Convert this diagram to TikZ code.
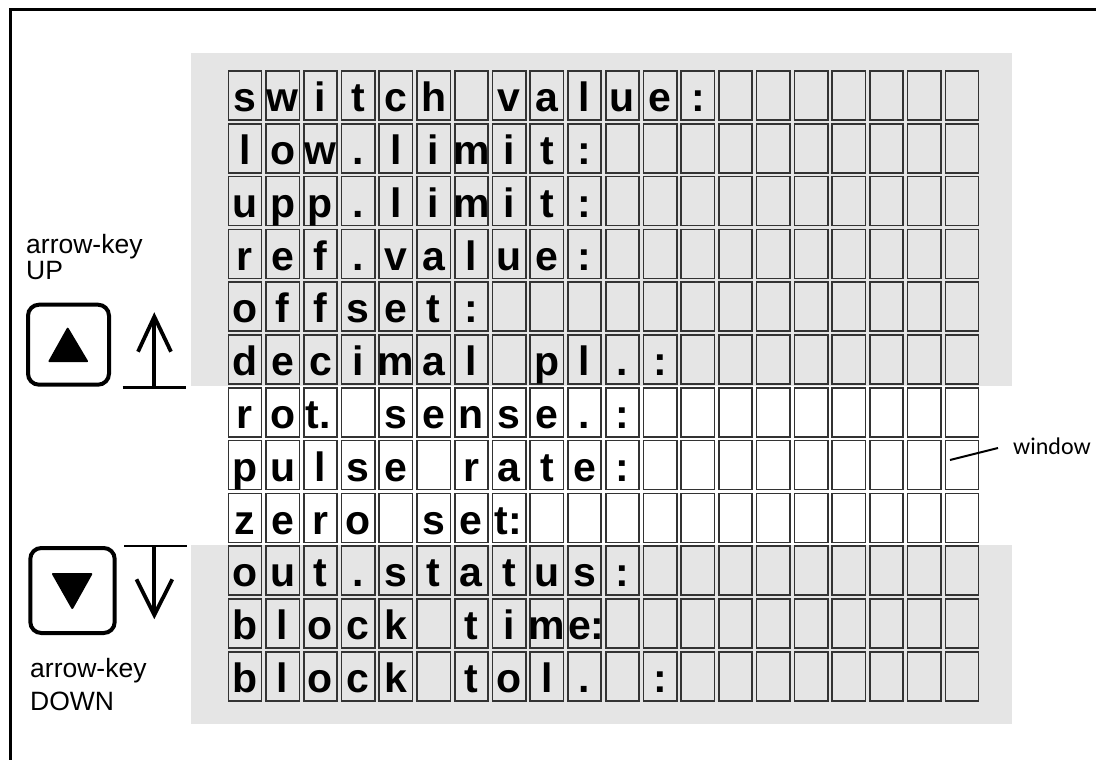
\documentclass[tikz,border=0pt]{standalone}
\usepackage{fontspec}
\setmainfont{Liberation Sans}
\newfontfamily\calib{Carlito}
\newfontfamily\lcdbold{Liberation Sans Bold}
\usetikzlibrary{calc}
\begin{document}
\begin{tikzpicture}[x=1pt,y=-1pt,
  cell/.style={draw=black!80,line width=1.6pt,minimum width=33.3pt,minimum height=49pt,inner sep=0pt,outer sep=0pt,anchor=north west},
  ch/.style={font=\lcdbold\fontsize{41pt}{41pt}\selectfont,anchor=base,inner sep=0pt},
  chl/.style={ch,anchor=base west},
  lbl/.style={font=\fontsize{26.5pt}{30pt}\selectfont,anchor=base west,inner sep=0pt},
  keybox/.style={draw,line width=4pt,rounded corners=11pt,inner sep=0pt},
  arr/.style={line width=3.8pt,line cap=butt,line join=miter}]
\useasboundingbox (0,0) rectangle (1096,760);
% frame
\draw[line width=3pt] (10,760) -- (10,9.5) -- (1096,9.5);
% gray panels
\fill[gray!20] (191,52.7) rectangle (1012,386);
\fill[gray!20] (191,545) rectangle (1012,724);
% grid
\foreach \r in {0,...,11}
  \foreach \c in {0,...,19}
    \node[cell] (c-\r-\c) at ({228.3+\c*37.74},{71+\r*52.8}) {};
% texts
\newcommand\rowtxt[2]{%
  \foreach \t [count=\c from 0] in {#2}
    \node[ch] (t-#1-\c) at ($(c-#1-\c.south)+(0,-8.3)$) {\t};}
\rowtxt{0}{s,w,i,t,c,h,{},v,a,l,u,e,:}
\rowtxt{1}{l,o,w,.,l,i,m,i,t,:}
\rowtxt{2}{u,p,p,.,l,i,m,i,t,:}
\rowtxt{3}{r,e,f,.,v,a,l,u,e,:}
\rowtxt{4}{o,f,f,s,e,t,:}
\rowtxt{5}{d,e,c,i,m,a,l,{},p,l,.,:}
\rowtxt{6}{r,o}
\node[chl] (t-6-2) at ($(c-6-2.south west)+(2,-8.3)$) {t.};
\foreach \t [count=\c from 4] in {s,e,n,s,e,.,:}
  \node[ch] (t-6-\c) at ($(c-6-\c.south)+(0,-8.3)$) {\t};
\rowtxt{7}{p,u,l,s,e,{},r,a,t,e,:}
\rowtxt{8}{z,e,r,o,{},s,e}
\node[chl] (t-8-7) at ($(c-8-7.south west)+(2.3,-8.3)$) {t:};
\rowtxt{9}{o,u,t,.,s,t,a,t,u,s,:}
\rowtxt{10}{b,l,o,c,k,{},t,i,m}
\node[chl] (t-10-9) at ($(c-10-9.south west)+(0,-8.3)$) {e:};
\rowtxt{11}{b,l,o,c,k,{},t,o,l,.,{},:}
% window label
\node[font=\calib\fontsize{24pt}{24pt}\selectfont,anchor=base west,inner sep=0pt] (window) at (1013,454) {window};
\coordinate (wp) at (950,460);
\coordinate (wl) at (998,448);
\draw[line width=2pt] (wp) -- (wl);
% labels
\node[lbl] (uplab1) at (26,253) {arrow-key};
\node[lbl] (uplab2) at (26,279) {UP};
\node[lbl] (dnlab1) at (30,677) {arrow-key};
\node[lbl] (dnlab2) at (30,710) {DOWN};
% keys
\node[keybox,minimum width=81pt,minimum height=80pt] (upkey) at (68.5,344.7) {};
\filldraw[line width=2pt,line join=round] ($(upkey.center)+(-0.8,-16)$) -- ($(upkey.center)+(18.5,16.5)$) -- ($(upkey.center)+(-19,16.5)$) -- cycle;
\node[keybox,minimum width=84.4pt,minimum height=85pt] (dnkey) at (72.5,590.5) {};
\filldraw[line width=2pt,line join=round] ($(dnkey.center)+(-19.5,-16.5)$) -- ($(dnkey.center)+(18.8,-16.5)$) -- ($(dnkey.center)+(-0.2,17.5)$) -- cycle;
% up arrow
\coordinate (ub1) at (122.7,387.3);
\coordinate (ub2) at (186,387.3);
\coordinate (ubm) at (154.3,387.3);
\coordinate (utip) at (154.3,316.7);
\coordinate (ual) at (138,351.7);
\coordinate (uar) at (171,351.7);
\draw[line width=2.6pt] (ub1) -- (ub2);
\draw[arr] (ubm) -- (utip);
\draw[arr] (ual) -- (utip) -- (uar);
% down arrow
\coordinate (db1) at (124,546);
\coordinate (db2) at (186.7,546);
\coordinate (dbm) at (154.3,546);
\coordinate (dtip) at (154.3,615);
\coordinate (dal) at (136.5,579.3);
\coordinate (dar) at (172.3,579.3);
\draw[line width=2.6pt] (db1) -- (db2);
\draw[arr] (dbm) -- (dtip);
\draw[arr] (dal) -- (dtip) -- (dar);
\end{tikzpicture}
\end{document}
